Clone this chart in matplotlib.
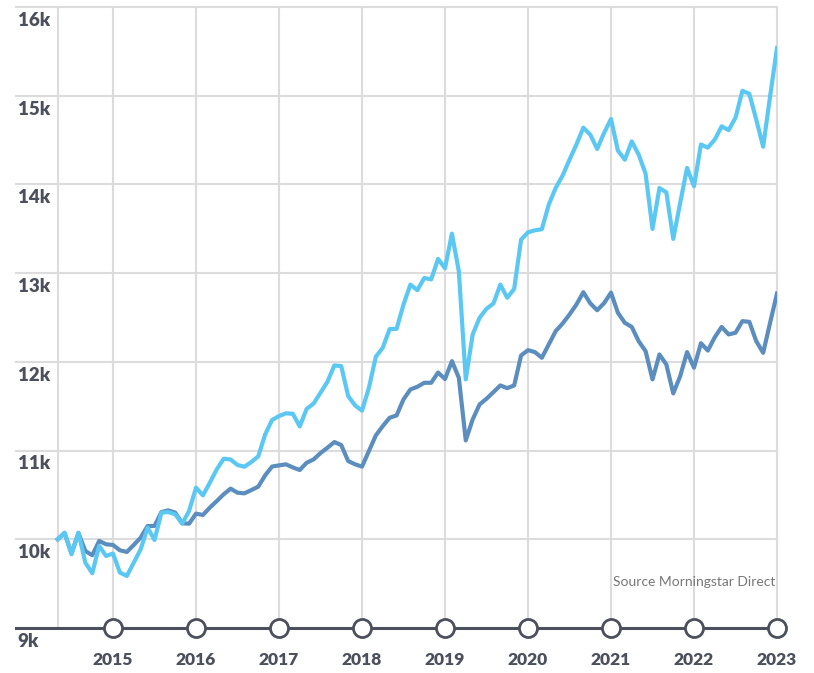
import numpy as np
import matplotlib
matplotlib.use("Agg")
import matplotlib.pyplot as plt

# Monthly growth of 10k, May 2014 .. Jan 2023
start_year = 2014
start_month = 5
fund = [10000, 10075, 9831, 10075, 9737, 9617, 9925, 9812, 9839, 9625,
        9587, 9737, 9887, 10131, 9992, 10300, 10307, 10281, 10176, 10319,
        10582, 10495, 10638, 10788, 10908, 10900, 10837, 10818, 10871, 10935,
        11182, 11345, 11389, 11420, 11415, 11272, 11470, 11530, 11652, 11775,
        11960, 11952, 11614, 11509, 11450, 11708, 12058, 12159, 12370, 12372,
        12646, 12871, 12808, 12945, 12930, 13160, 13055, 13445, 13021, 11802,
        12309, 12497, 12598, 12658, 12871, 12722, 12823, 13378, 13460, 13483,
        13495, 13772, 13960, 14099, 14279, 14450, 14640, 14561, 14400, 14580,
        14738, 14381, 14279, 14485, 14336, 14122, 13498, 13960, 13911, 13386,
        13792, 14186, 13979, 14450, 14415, 14505, 14655, 14612, 14752, 15055,
        15022, 14730, 14425, 14993, 15538]
benchmark = [10000, 10070, 9840, 10070, 9868, 9820, 9981, 9944, 9936, 9876,
             9857, 9936, 10019, 10150, 10150, 10307, 10326, 10300, 10180, 10176,
             10289, 10274, 10357, 10431, 10507, 10571, 10525, 10518, 10555, 10593,
             10721, 10820, 10833, 10845, 10810, 10781, 10863, 10900, 10972, 11032,
             11096, 11062, 10882, 10845, 10819, 10995, 11171, 11276, 11370, 11396,
             11577, 11689, 11719, 11764, 11764, 11880, 11806, 12008, 11821, 11115,
             11351, 11520, 11584, 11659, 11734, 11704, 11734, 12072, 12132, 12110,
             12046, 12196, 12346, 12432, 12534, 12646, 12785, 12660, 12582, 12662,
             12780, 12553, 12440, 12394, 12233, 12121, 11802, 12083, 11971, 11644,
             11839, 12110, 11934, 12210, 12127, 12277, 12394, 12309, 12328, 12459,
             12451, 12233, 12102, 12440, 12770]
years = list(range(2015, 2024))
y_ticks = [9000, 10000, 11000, 12000, 13000, 14000, 15000, 16000]
y_labels = ["9k", "10k", "11k", "12k", "13k", "14k", "15k", "16k"]

x = start_year + (start_month - 1 + np.arange(len(fund))) / 12.0

text_col = "#4b505c"
grid_col = "#dcdcdc"
plt.rcParams["font.family"] = ["Lato", "DejaVu Sans"]

fig = plt.figure(figsize=(8.14, 6.73), dpi=100)
ax = fig.add_axes([16 / 814, 45 / 673, 761 / 814, 621 / 673])
x0 = 2013.8313
ax.set_xlim(x0, 2023)
ax.set_ylim(9000, 16000)
ax.axis("off")

# Grid
for yv in y_ticks[1:]:
    ax.plot([x0, 2023], [yv, yv], color=grid_col, lw=1.5, zorder=1, clip_on=False)
for xv in [x[0]] + years:
    ax.plot([xv, xv], [9000, 16000], color=grid_col, lw=1.5, zorder=1, clip_on=False)

# Series
ax.plot(x, benchmark, color="#5b8ebf", lw=3.0, zorder=3, solid_joinstyle="round")
ax.plot(x, fund, color="#5bc8f3", lw=3.0, zorder=4, solid_joinstyle="round")

# Bottom axis with circles
ax.plot([x0, 2023], [9000, 9000], color=text_col, lw=2.2, zorder=5, clip_on=False)
ax.plot(years, [9000] * len(years), "o", ms=13, mfc="white", mec=text_col,
        mew=2, zorder=6, clip_on=False)

# Labels
for yv, lab in zip(y_ticks, y_labels):
    ax.text(x0 + 0.02, yv - 55, lab, ha="left", va="top", fontsize=13.5,
            fontweight="heavy", color=text_col)
for yr in years:
    ax.text(yr, 8640, str(yr), ha="center", va="center", fontsize=12.5,
            fontweight="heavy", color=text_col, clip_on=False)

ax.text(2022.98, 9520, "Source Morningstar Direct", ha="right", va="center",
        fontsize=10, color="#777777")

fig.savefig("out.png", dpi=100)
